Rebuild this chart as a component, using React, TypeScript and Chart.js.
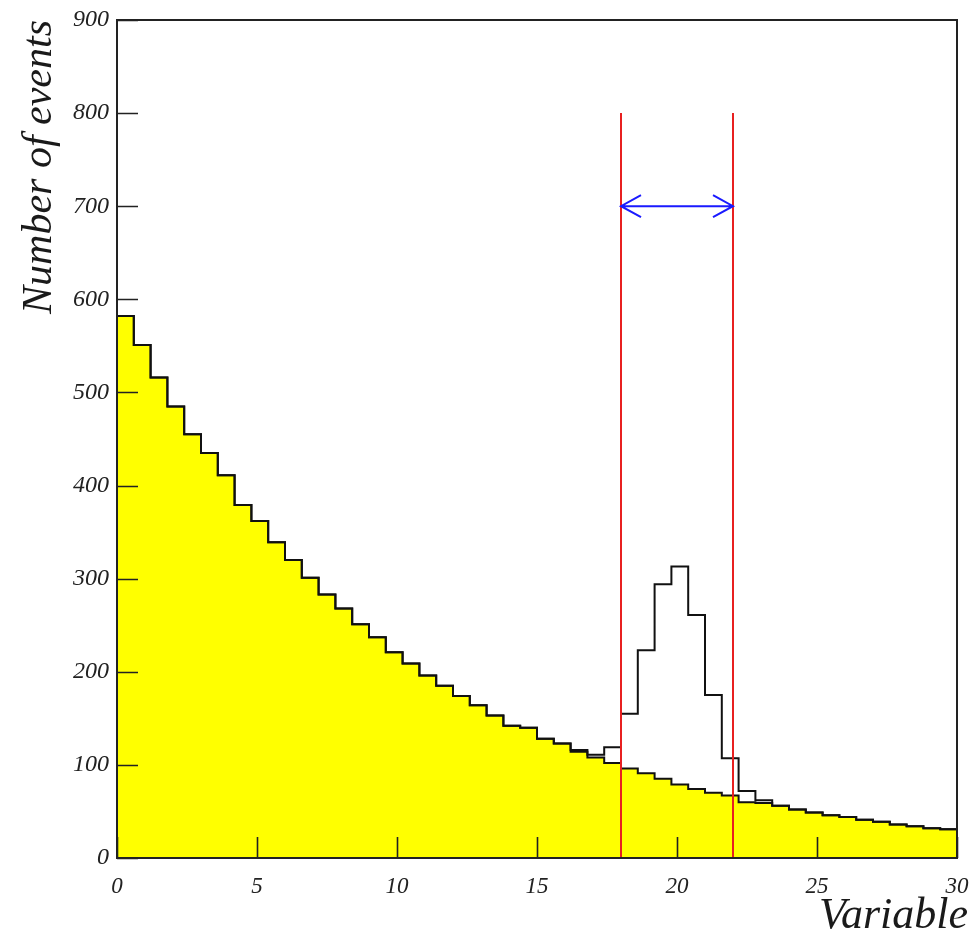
import React, { useEffect, useRef } from "react";
import { Chart, registerables } from "chart.js";

Chart.register(...registerables);

// Histogram binning: 50 bins of width 0.6 over [0, 30]
const binLow = 0;
const binWidth = 0.6;

// Background (filled, yellow) bin contents
const background = [
  582, 551, 516, 485, 455, 435, 411, 379, 362, 339,
  320, 301, 283, 268, 251, 237, 221, 209, 196, 185,
  174, 164, 153, 142, 140, 128, 123, 114, 108, 102,
  96, 91, 85, 79, 74, 70, 67, 60, 59, 56,
  52, 49, 46, 44, 41, 39, 36, 34, 32, 31,
];

// Signal + background (outline) bin contents
const total = [
  582, 551, 516, 485, 455, 435, 411, 379, 362, 339,
  320, 301, 283, 268, 251, 237, 221, 209, 196, 185,
  174, 164, 153, 142, 140, 128, 123, 116, 111, 119,
  155, 223, 294, 313, 261, 175, 107, 72, 62, 56,
  52, 49, 46, 44, 41, 39, 36, 34, 32, 31,
];

// Selection window and the arrow marking it
const cutLow = 18;
const cutHigh = 22;
const cutTop = 800;
const arrowY = 700;

const xTicks = [0, 5, 10, 15, 20, 25, 30];
const yTicks = [0, 100, 200, 300, 400, 500, 600, 700, 800, 900];

const xTitle = "Variable";
const yTitle = "Number of events";

const FONT = "'Liberation Serif', 'Times New Roman', serif";

// Turn bin contents into step-line vertices (closed down to zero at both ends)
function histPoints(values: number[]) {
  const pts: { x: number; y: number }[] = [{ x: binLow, y: 0 }];
  values.forEach((v, i) => pts.push({ x: binLow + i * binWidth, y: v }));
  const end = binLow + values.length * binWidth;
  pts.push({ x: end, y: values[values.length - 1] });
  pts.push({ x: end, y: 0 });
  return pts;
}

const framePlugin = {
  id: "frameAndMarks",
  afterDatasetsDraw(chart: any) {
    const { ctx, chartArea, scales } = chart;
    const xs = scales.x;
    const ys = scales.y;
    const { left, right, top, bottom } = chartArea;
    ctx.save();

    // Cut lines
    ctx.strokeStyle = "#e82020";
    ctx.lineWidth = 2;
    [cutLow, cutHigh].forEach((c) => {
      const px = Math.round(xs.getPixelForValue(c));
      ctx.beginPath();
      ctx.moveTo(px, ys.getPixelForValue(0));
      ctx.lineTo(px, ys.getPixelForValue(cutTop));
      ctx.stroke();
    });

    // Double-headed arrow between the cuts
    const ax1 = xs.getPixelForValue(cutLow);
    const ax2 = xs.getPixelForValue(cutHigh);
    const ay = ys.getPixelForValue(arrowY);
    ctx.strokeStyle = "#1a1aff";
    ctx.lineWidth = 2;
    ctx.beginPath();
    ctx.moveTo(ax1, ay);
    ctx.lineTo(ax2, ay);
    const hl = 20, hh = 11;
    ctx.moveTo(ax1 + hl, ay - hh);
    ctx.lineTo(ax1, ay);
    ctx.lineTo(ax1 + hl, ay + hh);
    ctx.moveTo(ax2 - hl, ay - hh);
    ctx.lineTo(ax2, ay);
    ctx.lineTo(ax2 - hl, ay + hh);
    ctx.stroke();

    // Frame
    ctx.strokeStyle = "#222";
    ctx.lineWidth = 2;
    ctx.strokeRect(left, top, right - left, bottom - top);

    // Inward major ticks
    const tl = 21;
    ctx.lineWidth = 1.6;
    ctx.beginPath();
    xTicks.forEach((t) => {
      const px = Math.round(xs.getPixelForValue(t)) + 0.5;
      ctx.moveTo(px, bottom);
      ctx.lineTo(px, bottom - tl);
    });
    yTicks.forEach((t) => {
      const py = Math.round(ys.getPixelForValue(t)) + 0.5;
      ctx.moveTo(left, py);
      ctx.lineTo(left + tl, py);
    });
    ctx.stroke();

    // Axis titles
    ctx.fillStyle = "#1a1a1a";
    ctx.font = `italic 44px ${FONT}`;
    ctx.textAlign = "right";
    ctx.textBaseline = "alphabetic";
    ctx.fillText(xTitle, 968, 928);

    ctx.font = `italic 42px ${FONT}`;
    ctx.translate(51, 20);
    ctx.rotate(-Math.PI / 2);
    ctx.textAlign = "right";
    ctx.fillText(yTitle, 0, 0);

    ctx.restore();
  },
};

export default function App() {
  const ref = useRef<HTMLCanvasElement>(null);

  useEffect(() => {
    if (!ref.current) return;
    const chart = new Chart(ref.current, {
      type: "line",
      data: {
        datasets: [
          {
            label: "total",
            data: histPoints(total),
            stepped: true,
            borderColor: "#111",
            borderWidth: 2,
            fill: false,
            pointRadius: 0,
          },
          {
            label: "background",
            data: histPoints(background),
            stepped: true,
            borderColor: "#111",
            borderWidth: 2,
            backgroundColor: "#ffff00",
            fill: "origin",
            pointRadius: 0,
          },
        ],
      },
      options: {
        animation: false,
        responsive: false,
        devicePixelRatio: 1,
        layout: { padding: { top: 20, right: 19, left: 0, bottom: 0 } },
        plugins: {
          legend: { display: false },
          tooltip: { enabled: false },
        },
        scales: {
          x: {
            type: "linear",
            min: 0,
            max: 30,
            afterFit: (s: any) => {
              s.height = 82;
              s.paddingLeft = 0;
              s.paddingRight = 0;
            },
            afterBuildTicks: (s: any) => {
              s.ticks = xTicks.map((v) => ({ value: v }));
            },
            grid: { display: false, drawTicks: false },
            border: { display: false },
            ticks: {
              padding: 15,
              color: "#222",
              font: { family: FONT, size: 23, style: "italic" },
              maxRotation: 0,
            },
          },
          y: {
            type: "linear",
            min: 0,
            max: 900,
            afterFit: (s: any) => {
              s.width = 117;
              s.paddingTop = 0;
              s.paddingBottom = 0;
            },
            afterBuildTicks: (s: any) => {
              s.ticks = yTicks.map((v) => ({ value: v }));
            },
            grid: { display: false, drawTicks: false },
            border: { display: false },
            ticks: {
              padding: 8,
              color: "#222",
              font: { family: FONT, size: 24, style: "italic" },
            },
          },
        },
      },
      plugins: [framePlugin],
    });
    return () => chart.destroy();
  }, []);

  return (
    <div style={{ position: "absolute", left: 0, top: 0, width: 976, height: 940, background: "#fff" }}>
      <canvas ref={ref} width={976} height={940} />
    </div>
  );
}
